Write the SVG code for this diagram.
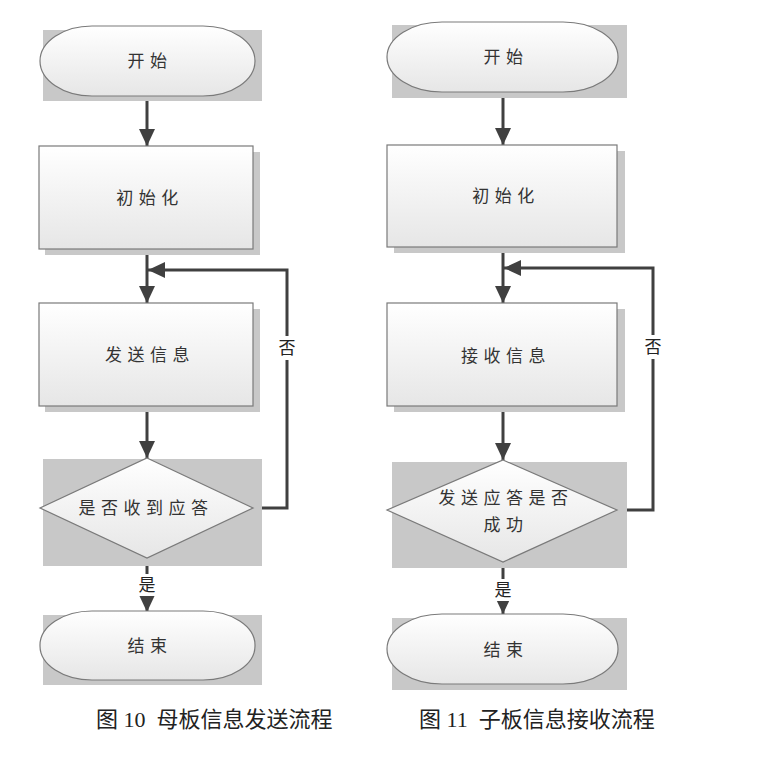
<svg xmlns="http://www.w3.org/2000/svg" width="772" height="774" viewBox="0 0 772 774">
<style>
.bg{fill:#c8c8c8}
.shape{fill:url(#g);stroke:#7a7a7a;stroke-width:1.2}
.sh{fill:#c8c8c8}
.t{font-family:"Noto Sans CJK SC","Noto Sans",sans-serif;font-size:17px;fill:#333;text-anchor:middle;letter-spacing:5.5px}
.lbl{font-family:"Noto Sans CJK SC","Noto Sans",sans-serif;font-size:17px;fill:#222;text-anchor:middle}
.cap{font-family:"Liberation Serif","Noto Sans CJK SC",serif;font-size:22px;fill:#222}
.c{fill:none;stroke:#404040;stroke-width:3}
</style>
<defs>
<linearGradient id="g" x1="0" y1="0" x2="0" y2="1">
<stop offset="0" stop-color="#ffffff"/>
<stop offset="1" stop-color="#e6e6e6"/>
</linearGradient>
<marker id="a" markerUnits="userSpaceOnUse" markerWidth="18" markerHeight="18" viewBox="0 0 18 18" refX="17" refY="9" orient="auto">
<path d="M0,1 L17,9 L0,17 Z" fill="#404040"/>
</marker>
</defs>
<rect width="772" height="774" fill="#fff"/>

<g id="connectors">
<path class="c" d="M147,96 V146" marker-end="url(#a)"/>
<path class="c" d="M147,249 V303" marker-end="url(#a)"/>
<path class="c" d="M253,508 H287 V270 H148" marker-end="url(#a)"/>
<path class="c" d="M147,406 V458" marker-end="url(#a)"/>
<path class="c" d="M147,558 V612" marker-end="url(#a)"/>
<path class="c" d="M503,92 V145" marker-end="url(#a)"/>
<path class="c" d="M503,247 V303" marker-end="url(#a)"/>
<path class="c" d="M617,510 H653 V268 H504" marker-end="url(#a)"/>
<path class="c" d="M503,406 V460" marker-end="url(#a)"/>
<path class="c" d="M503,562 V614" marker-end="url(#a)"/>
<rect x="276" y="336" width="22" height="24" fill="#fff"/>
<text class="lbl" x="287" y="354">否</text>
<rect x="136" y="574" width="22" height="22" fill="#fff"/>
<text class="lbl" x="147" y="591">是</text>
<rect x="642" y="335" width="22" height="24" fill="#fff"/>
<text class="lbl" x="653" y="353">否</text>
<rect x="492" y="579" width="22" height="22" fill="#fff"/>
<text class="lbl" x="503" y="596">是</text>
</g>

<g id="start1">
<rect class="bg" x="43" y="30" width="219" height="71"/>
<rect class="shape" x="40" y="26" width="215" height="70" rx="52" ry="35"/>
<text class="t" x="150" y="67">开始</text>
</g>
<g id="init1">
<rect class="sh" x="45" y="152" width="215" height="103"/>
<rect class="shape" x="39" y="146" width="214" height="103"/>
<text class="t" x="150" y="204">初始化</text>
</g>
<g id="send1">
<rect class="sh" x="45" y="309" width="215" height="103"/>
<rect class="shape" x="39" y="303" width="214" height="103"/>
<text class="t" x="150" y="361">发送信息</text>
</g>
<g id="dec1">
<rect class="bg" x="43" y="459" width="219" height="107"/>
<polygon class="shape" points="147,458 253,508 147,558 40,508"/>
<text class="t" x="146" y="514">是否收到应答</text>
</g>
<g id="end1">
<rect class="bg" x="43" y="615" width="219" height="70"/>
<rect class="shape" x="40" y="611" width="215" height="69" rx="52" ry="34"/>
<text class="t" x="150" y="652">结束</text>
</g>

<g id="start2">
<rect class="bg" x="392" y="25" width="235" height="73"/>
<rect class="shape" x="387" y="22" width="231" height="70" rx="55" ry="35"/>
<text class="t" x="506" y="63">开始</text>
</g>
<g id="init2">
<rect class="sh" x="394" y="151" width="231" height="102"/>
<rect class="shape" x="387" y="145" width="230" height="102"/>
<text class="t" x="506" y="202">初始化</text>
</g>
<g id="recv2">
<rect class="sh" x="394" y="309" width="231" height="103"/>
<rect class="shape" x="387" y="303" width="230" height="103"/>
<text class="t" x="506" y="362">接收信息</text>
</g>
<g id="dec2">
<rect class="bg" x="392" y="462" width="235" height="106"/>
<polygon class="shape" points="503,460 617,510 503,562 387,510"/>
<text class="t" x="506" y="504">发送应答是否</text>
<text class="t" x="506" y="531">成功</text>
</g>
<g id="end2">
<rect class="bg" x="392" y="618" width="235" height="72"/>
<rect class="shape" x="387" y="614" width="231" height="70" rx="55" ry="35"/>
<text class="t" x="506" y="656">结束</text>
</g>

<text class="cap" x="96" y="727" xml:space="preserve">图 10  母板信息发送流程</text>
<text class="cap" x="419" y="727" xml:space="preserve">图 11  子板信息接收流程</text>
</svg>
